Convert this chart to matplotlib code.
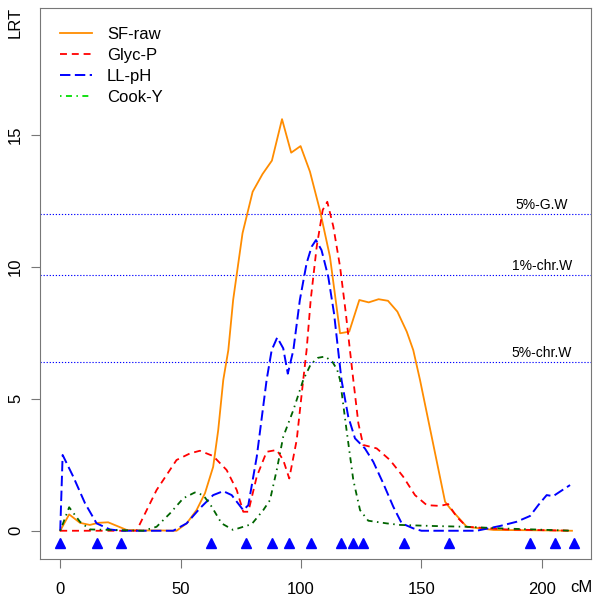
import matplotlib
matplotlib.use("Agg")
import matplotlib.pyplot as plt
from matplotlib.lines import Line2D

plt.rcParams['font.family'] = ['Liberation Sans', 'DejaVu Sans']
plt.rcParams['lines.scale_dashes'] = False

# SF-raw
sf_x = [0, 3.7, 8.2, 12.3, 15.8, 19.9, 27.6, 35, 42, 48.3, 52.5, 56.6, 60.1, 63.5, 65.6,
        67.7, 69.8, 71.8, 75.7, 79.9, 84.0, 87.9, 92.1, 95.9, 99.8, 103.7, 107.8, 112.0,
        116.2, 120.0, 124.2, 128.1, 132.2, 136.1, 140.0, 143.9, 146.6, 149.4, 159.8,
        161.8, 168.8, 180, 195, 212.5]
sf_y = [0, 0.62, 0.30, 0.22, 0.30, 0.32, 0.03, 0.01, 0.01, 0.0, 0.28, 0.78, 1.42, 2.42, 3.81,
        5.71, 6.84, 8.74, 11.27, 12.84, 13.51, 14.02, 15.59, 14.32, 14.57, 13.6, 12.15, 10.38,
        7.48, 7.54, 8.74, 8.65, 8.77, 8.71, 8.30, 7.54, 6.84, 5.71, 1.1,
        0.86, 0.15, 0.03, 0.02, 0.0]

# Glyc-P
gp_x = [0, 31.7, 40.0, 48.3, 53.9, 58.0, 63.5, 69.1, 73.3, 76.0, 78.1, 81.6, 85.7, 89.9,
        92.6, 95.1, 98.2, 100.9, 102.3, 104.0, 106.5, 109.0, 110.9, 113.4, 116.2, 118.6,
        120.3, 121.7, 123.8, 125.8, 131.4, 136.9, 142.4, 147.3, 152.2, 157.7, 161.1,
        164.6, 168.8, 185, 212.5]
gp_y = [0, 0, 1.54, 2.68, 2.93, 3.03, 2.83, 2.3, 1.54, 0.72, 0.72, 2.05, 2.99, 3.06,
        2.68, 1.98, 3.44, 5.71, 6.84, 8.74, 10.76, 12.15, 12.46, 11.52, 10.0, 8.23,
        6.84, 5.71, 4.07, 3.25, 3.12, 2.68, 2.05, 1.35, 0.97, 0.94, 1.01,
        0.53, 0.15, 0.05, 0.0]

# LL-pH
ll_x = [0, 1.0, 5.4, 10.3, 15.1, 20.6, 25, 46.9, 52.5, 58.0, 63.5, 67.7, 71.2, 76.0, 78.1,
        81.6, 85.7, 87.8, 90.1, 92.6, 94.5, 96.8, 99.5, 102.3, 104.4, 106.2, 108.5, 111.3,
        113.7, 115.4, 116.8, 119.6, 122.4, 126.5, 130.0, 134.1, 138.3, 141.8, 146.6, 150,
        172.9, 182.6, 189.5, 195.1, 198.5, 202.0, 204.7, 207.5, 211.7]
ll_y = [0, 2.87, 2.05, 1.04, 0.28, 0.05, 0, 0, 0.28, 0.85, 1.35, 1.5, 1.35, 0.78, 0.97,
        2.8, 5.71, 6.84, 7.32, 6.91, 5.95, 6.84, 8.74, 10.13, 10.76, 11.01, 10.63, 9.62,
        8.23, 6.84, 5.71, 4.32, 3.5, 3.12, 2.61, 1.8, 0.91, 0.28, 0.09, 0,
        0, 0.18, 0.34, 0.56, 0.97, 1.35, 1.31, 1.48, 1.73]

# Cook-Y
ck_x = [0, 3.7, 8.2, 12.3, 34.5, 40.0, 45.6, 51.1, 55.9, 59.4, 62.9, 67.0, 71.8, 76.0, 79.5,
        84.3, 87.1, 89.9, 92.6, 96.8, 100.9, 104, 107, 110, 113, 115, 116.2, 118.9, 121.7,
        124.5, 127.9, 135.5, 141.1, 154.9, 168.8, 182.6, 196.4, 212.5]
ck_y = [0, 0.89, 0.34, 0.05, 0, 0.15, 0.66, 1.23, 1.45, 1.35, 0.91, 0.28, 0.03, 0.15, 0.25,
        0.78, 1.16, 2.3, 3.56, 4.57, 5.71, 6.3, 6.55, 6.6, 6.4, 6.1, 5.71, 3.81, 1.92,
        0.78, 0.38, 0.28, 0.22, 0.18, 0.15, 0.09, 0.05, 0]

markers = [0, 15.4, 25.1, 62.7, 77.1, 87.8, 94.8, 104.1, 116.4, 121.4, 125.8, 142.7,
           161.4, 195.1, 205.5, 213.4]

thresholds = [12.0, 9.7, 6.4]
thr_labels = ['5%-G.W', '1%-chr.W', '5%-chr.W']

dash_gp = (0, (5, 3.5))
dash_ll = (0, (7.5, 3.2))
dash_ck = (0, (1.1, 3.2, 4.3, 3.2))

fig = plt.figure(figsize=(6, 6), dpi=100)
ax = fig.add_axes([40/600, 41/600, 551/600, 551/600])

for t, lab in zip(thresholds, thr_labels):
    ax.axhline(t, color='blue', lw=0.8, ls=(0, (0.9, 1.3)))
    ax.text(200, t + 0.34, lab, ha='center', va='center', fontsize=10)

ax.plot(sf_x, sf_y, color='darkorange', lw=1.3)
ax.plot(gp_x, gp_y, color='red', lw=1.3, ls=dash_gp)
ax.plot(ll_x, ll_y, color='blue', lw=1.4, ls=dash_ll)
ax.plot(ck_x, ck_y, color='darkgreen', lw=1.3, ls=dash_ck)

ax.plot(markers, [-0.47] * len(markers), ls='none', marker='^', color='blue', ms=7)

ax.set_xlim(-8.4, 220.4)
ax.set_ylim(-1.07, 19.8)
ax.set_xticks([0, 50, 100, 150, 200])
ax.set_yticks([0, 5, 10, 15])
for s in ax.spines.values():
    s.set_color('#777777')
ax.tick_params(axis='both', color='#777777', length=6.7, labelsize=12)
ax.tick_params(axis='x', pad=9.6)
ax.tick_params(axis='y', pad=5.5, labelrotation=90)
plt.setp(ax.get_yticklabels(), va='center')

handles = [Line2D([], [], color='darkorange', lw=1.3),
           Line2D([], [], color='red', lw=1.3, ls=dash_gp),
           Line2D([], [], color='blue', lw=1.4, ls=dash_ll),
           Line2D([], [], color='#00dd00', lw=1.3, ls=dash_ck)]
fig.legend(handles, ['SF-raw', 'Glyc-P', 'LL-pH', 'Cook-Y'], loc='upper left',
           bbox_to_anchor=(60/600, 1 - 27/600), frameon=False, fontsize=12,
           borderpad=0, borderaxespad=0, handlelength=1.92, handletextpad=0.9,
           labelspacing=0.36)

fig.text(15/600, 1 - 22/600, 'LRT', rotation=90, ha='center', va='center', fontsize=12)
fig.text(581/600, 1 - 587.5/600, 'cM', ha='center', va='center', fontsize=12)

fig.savefig('out.png', dpi=100)
